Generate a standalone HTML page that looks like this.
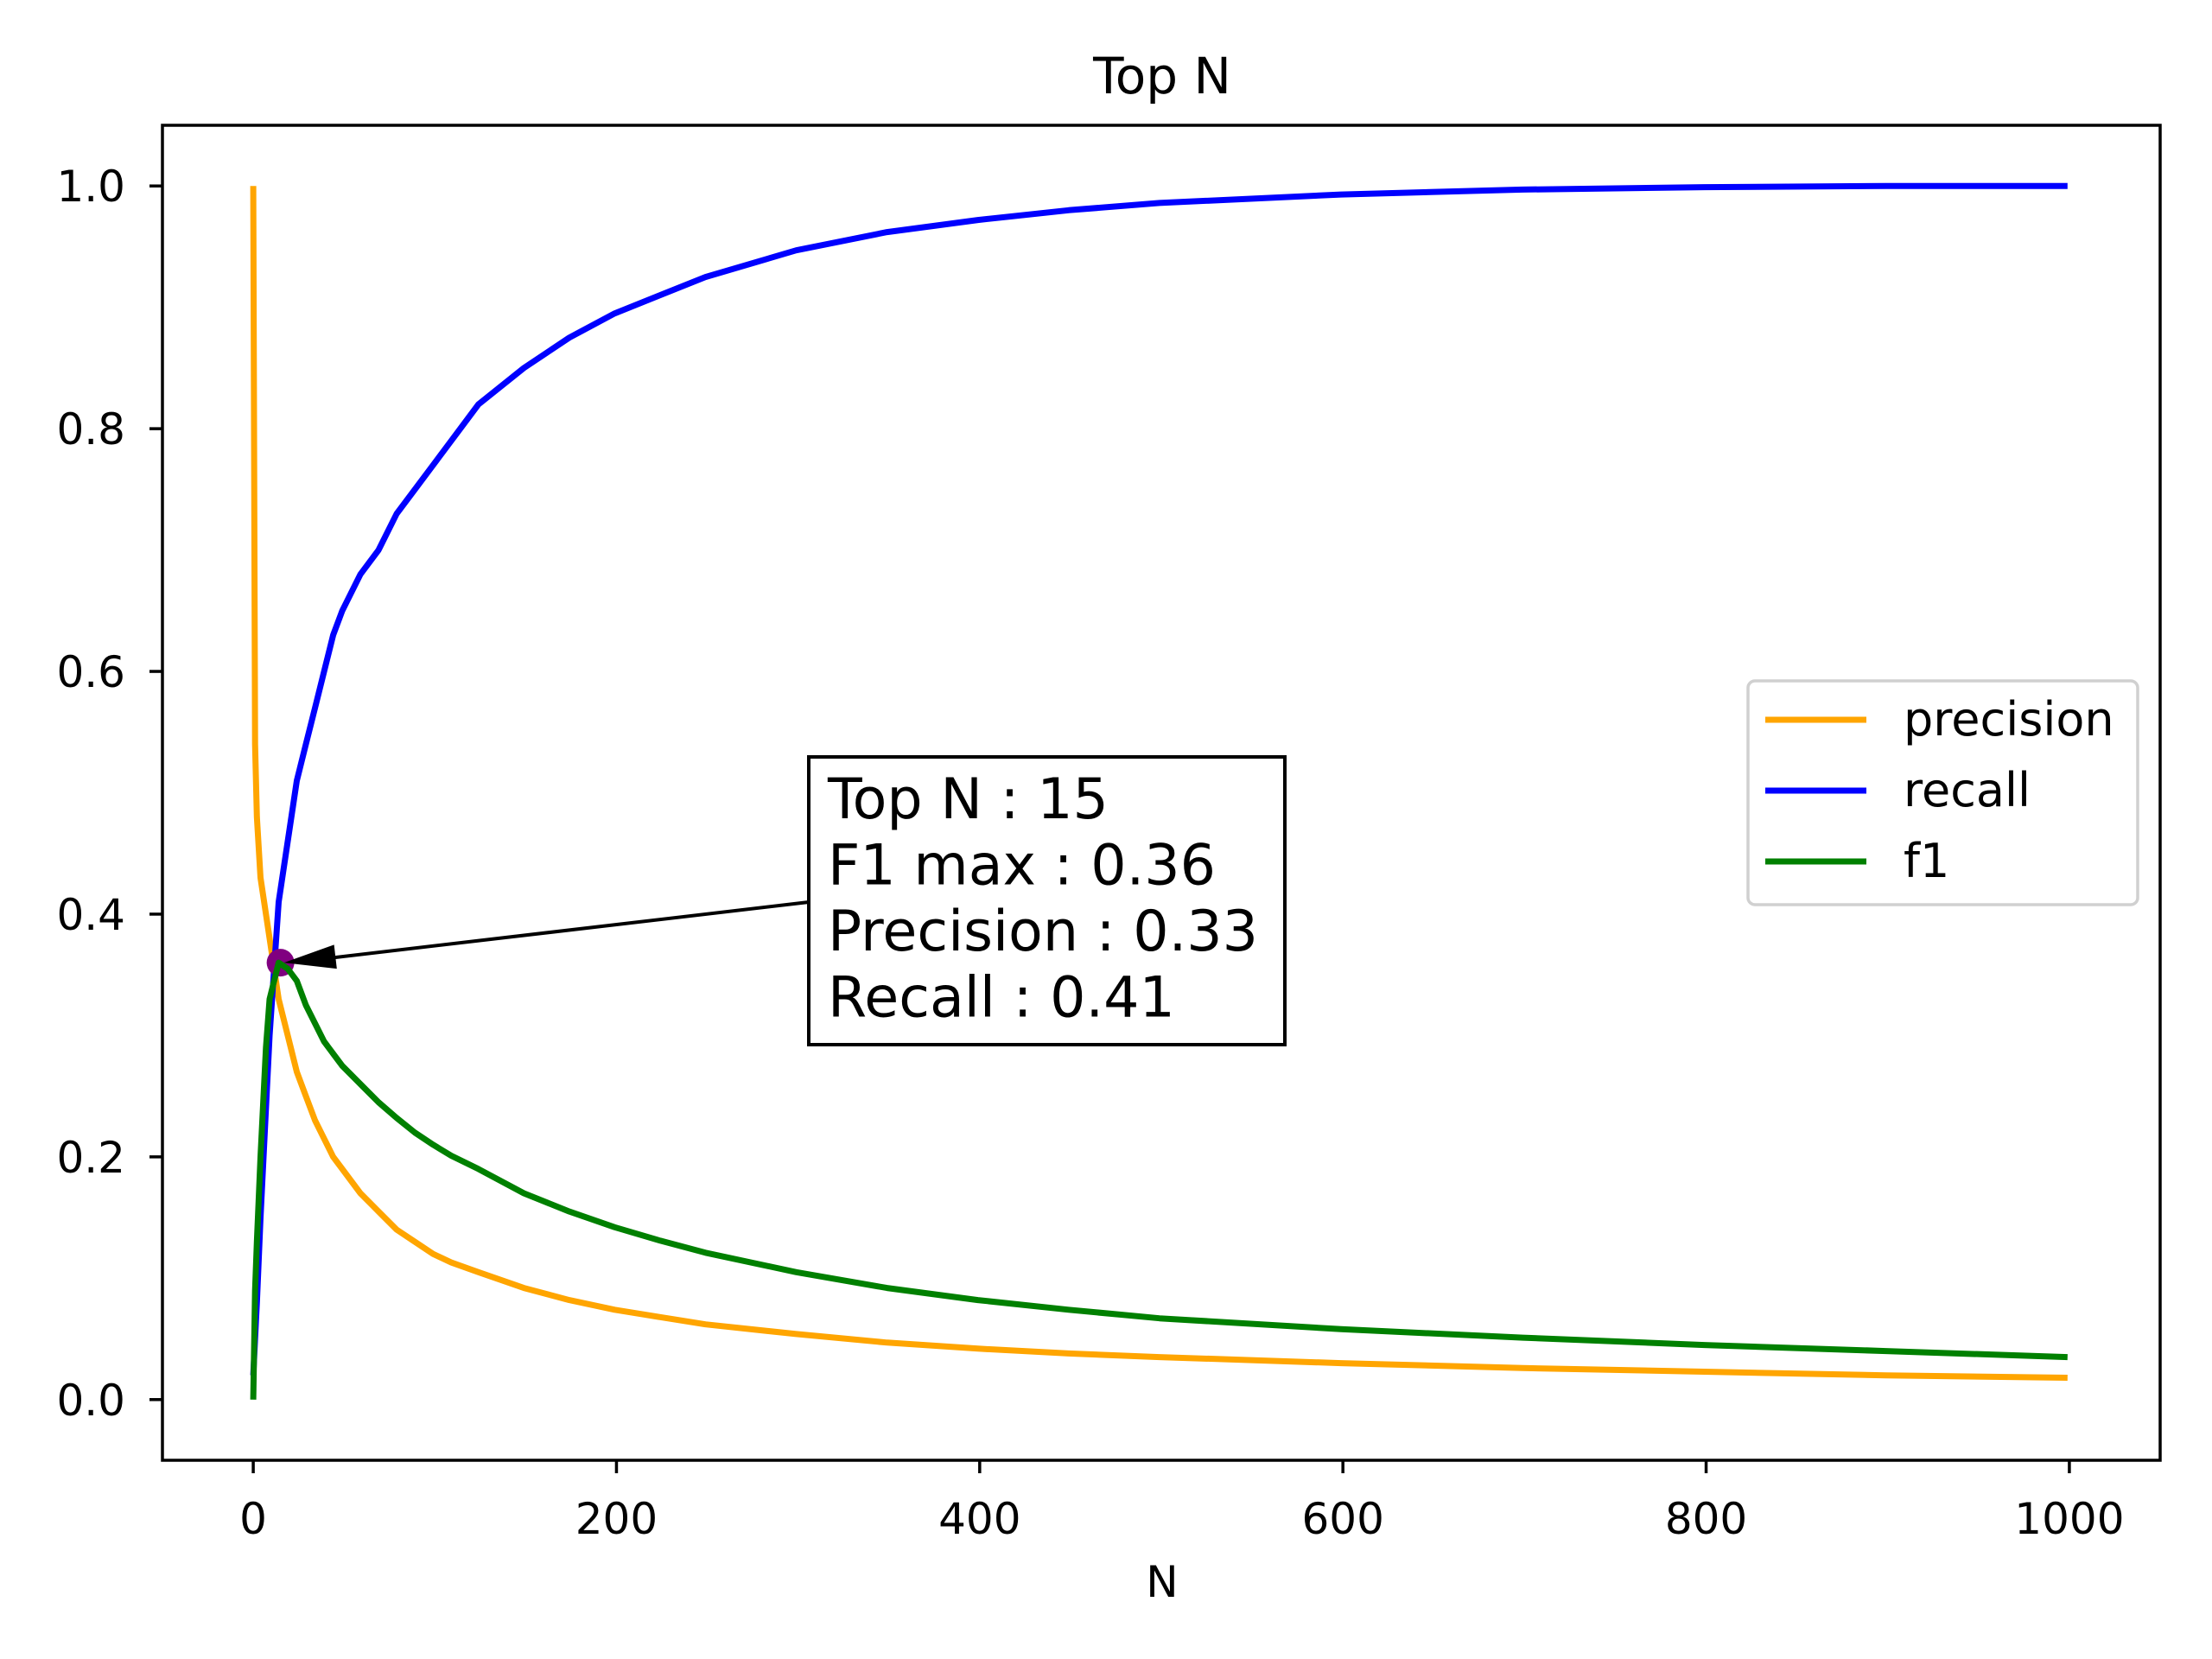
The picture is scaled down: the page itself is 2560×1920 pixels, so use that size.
<!DOCTYPE html>
<html><head><meta charset="utf-8"><style>
html,body{margin:0;padding:0;background:#fff;}
svg{display:block;font-family:"DejaVu Sans","Liberation Sans",sans-serif;}
</style></head><body>
<svg id="chart" width="2560" height="1920" viewBox="0 0 2560 1920" xmlns="http://www.w3.org/2000/svg">
<rect width="2560" height="1920" fill="#fff"/>
<g id="plot"></g>
</svg>
<script>
const nValues = [0,1,2,4,7,9,14,19,24,29,34,39,44,49,59,69,79,89,99,109,124,149,174,199,224,249,299,349,399,449,499,599,699,799,899,999];
const precisionValues = [1.0,0.54,0.48,0.43,0.40,0.38,0.33,0.30,0.27,0.25,0.23,0.215,0.20,0.19,0.17,0.155,0.14,0.13,0.12,0.113,0.105,0.092,0.082,0.074,0.068,0.062,0.054,0.047,0.042,0.038,0.035,0.030,0.026,0.023,0.020,0.018];
const recallValues = [0.02,0.05,0.08,0.15,0.24,0.30,0.41,0.46,0.51,0.54,0.57,0.60,0.63,0.65,0.68,0.70,0.73,0.75,0.77,0.79,0.82,0.85,0.875,0.895,0.91,0.925,0.947,0.962,0.972,0.98,0.986,0.993,0.997,0.999,1.0,1.0];
const f1Values = [0.0,0.09,0.13,0.20,0.29,0.33,0.36,0.355,0.345,0.325,0.31,0.295,0.285,0.275,0.26,0.245,0.232,0.22,0.21,0.201,0.19,0.17,0.155,0.142,0.131,0.121,0.105,0.092,0.082,0.074,0.067,0.058,0.051,0.045,0.040,0.035];
const xTicks = [0,200,400,600,800,1000];
const yTicks = [0.0,0.2,0.4,0.6,0.8,1.0];
const bestN = 15, bestF1 = 0.36;

const L=188,R=2500,T=145,B=1690;
const xMin=-50,xMax=1050,yMin=-0.05,yMax=1.05;
const sx=v=>L+(v-xMin)/(xMax-xMin)*(R-L);
const sy=v=>B-(v-yMin)/(yMax-yMin)*(B-T);
const NS="http://www.w3.org/2000/svg";
const g=document.getElementById('plot');
function mk(tag,attrs,parent){const e=document.createElementNS(NS,tag);for(const k in attrs)e.setAttribute(k,attrs[k]);(parent||g).appendChild(e);return e;}

let t=mk('text',{x:1345,y:108,'font-size':58,'text-anchor':'middle'});t.textContent='Top N';


t=mk('text',{x:1345,y:1848,'font-size':50,'text-anchor':'middle'});t.textContent='N';



xTicks.forEach(v=>{
  const x=sx(v);
  const l=mk('line',{x1:x,x2:x,y1:B,y2:B+15,stroke:'#000','stroke-width':3.5});
  
  
  const tx=mk('text',{x:x,y:1775,'font-size':50,'text-anchor':'middle'});tx.textContent=v;
  
  
});
yTicks.forEach(v=>{
  const y=sy(v);
  const l=mk('line',{x1:L-15,x2:L,y1:y,y2:y,stroke:'#000','stroke-width':3.5});
  
  
  const tx=mk('text',{x:145,y:y+18,'font-size':50,'text-anchor':'end'});tx.textContent=v.toFixed(1);
  
  
});

function series(vals,color,name){
  const d=nValues.map((n,i)=>(i?'L':'M')+sx(n).toFixed(1)+','+sy(vals[i]).toFixed(1)).join(' ');
  const p=mk('path',{d:d,fill:'none',stroke:color,'stroke-width':7,'stroke-linejoin':'round'});
  
  
}
series(precisionValues,'orange','precision-line');
series(recallValues,'blue','recall-line');
const m=mk('circle',{cx:sx(bestN),cy:sy(bestF1),r:16,fill:'purple'});


series(f1Values,'green','f1-line');

const ax=sx(bestN)+4, ay=sy(bestF1);
const a=mk('line',{x1:936,y1:1044,x2:ax+50,y2:ay-5,stroke:'#000','stroke-width':4});


const ang=Math.atan2(1044-ay,936-ax);
const hl=60,hw=14;
const bx=ax+hl*Math.cos(ang), by=ay+hl*Math.sin(ang);
const px=-Math.sin(ang)*hw, py=Math.cos(ang)*hw;
const h=mk('polygon',{points:`${ax},${ay} ${bx+px},${by+py} ${bx-px},${by-py}`,fill:'#000'});



const ab=mk('rect',{x:936,y:876,width:551,height:333,fill:'#fff',stroke:'#000','stroke-width':4});


['Top N : 15','F1 max : 0.36','Precision : 0.33','Recall : 0.41'].forEach((s,i)=>{
  const tx=mk('text',{x:958,y:947+i*76.5,'font-size':65});tx.textContent=s;
  
  
});

const sp=mk('rect',{x:L,y:T,width:R-L,height:B-T,fill:'none',stroke:'#000','stroke-width':3.5});



const lg=mk('rect',{x:2023,y:788,width:451,height:259,rx:8,fill:'#fff','fill-opacity':0.8,stroke:'#d0d0d0','stroke-width':3.5});


[['precision','orange'],['recall','blue'],['f1','green']].forEach((e,i)=>{
  const y=833+i*82;
  const ln=mk('line',{x1:2043,x2:2160,y1:y,y2:y,stroke:e[1],'stroke-width':7});
  
  
  const tx=mk('text',{x:2203,y:y+18,'font-size':54});tx.textContent=e[0];
  
  
});
</script>
</body></html>
